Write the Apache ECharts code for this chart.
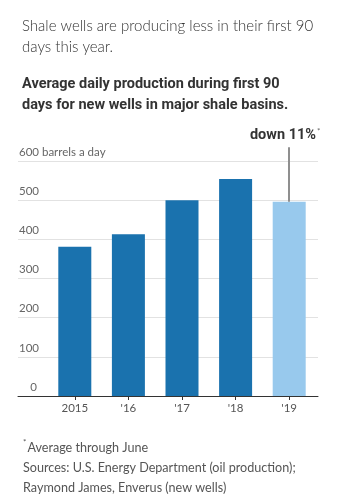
<!DOCTYPE html>
<html><head><meta charset="utf-8">
<script src="https://cdn.jsdelivr.net/npm/echarts@6/dist/echarts.min.js"></script>
<style>html,body{margin:0;padding:0;background:#fff}#c{width:338px;height:500px}</style>
</head><body><div id="c"></div>
<script>
const categories = ['2015', "'16", "'17", "'18", "'19"];
const values = [381, 413, 500, 554, 496];
const highlight = [false, false, false, false, true];
const yTicks = [0, 100, 200, 300, 400, 500, 600];
const annotationTop = 635;
const F = 'Lato, Roboto, sans-serif';
const FB = 'Roboto, sans-serif';
const DARK = '#1a72ae', LIGHT = '#98c9ed';

const chart = echarts.init(document.getElementById('c'), null, {renderer: 'canvas'});
chart.setOption({
  animation: false,
  backgroundColor: '#fff',
  title: [
    {text: 'Shale wells are producing less in their first 90\ndays this year.', left: 17, top: 11,
     textStyle: {fontFamily: F, fontSize: 15, fontWeight: 300, color: '#333', lineHeight: 21}},
    {text: 'Average daily production during first 90\ndays for new wells in major shale basins.', left: 17, top: 69,
     textStyle: {fontFamily: FB, fontSize: 14.5, fontWeight: 'bold', color: '#333', lineHeight: 21}},
    {text: '{s|*}Average through June\nSources: U.S. Energy Department (oil production);\nRaymond James, Enverus (new wells)', left: 18, top: 433,
     textStyle: {fontFamily: F, fontSize: 12.6, fontWeight: 'normal', color: '#555', lineHeight: 20,
       rich: {s: {fontFamily: F, fontSize: 8, fontWeight: 'normal', verticalAlign: 'top', color: '#555', lineHeight: 20, padding: [0,1,6,0]}}}}
  ],
  grid: [
    {left: 18, right: 20, top: 161, bottom: 104},
    {left: 48, right: 22, top: 121.8, bottom: 104}
  ],
  xAxis: [
    {gridIndex: 0, type: 'value', min: 0, max: 1, axisLabel: {show: false}, splitLine: {show: false},
     axisTick: {show: false}, axisLine: {show: true, lineStyle: {color: '#333', width: 1}}},
    {gridIndex: 1, type: 'category', data: categories, axisLine: {show: false},
     axisTick: {show: true, alignWithLabel: true, length: 4, lineStyle: {color: '#333'}},
     axisLabel: {fontFamily: F, fontSize: 11.5, color: '#555', margin: 6}}
  ],
  yAxis: [
    {gridIndex: 0, type: 'value', min: 0, max: 600, interval: 100, axisLine: {show: false}, axisTick: {show: false},
     splitLine: {lineStyle: {color: '#e2e2e2', width: 1}},
     axisLabel: {inside: true, margin: 1, align: 'left', verticalAlign: 'bottom', padding: [0, 0, 3, 0],
       fontFamily: F, fontSize: 11.5, color: '#666',
       formatter: v => v === 600 ? '600 barrels a day' : (v === 0 ? '{z|0}' : String(v)),
       rich: {z: {width: 18, align: 'right', fontFamily: F, fontSize: 11.5, color: '#666'}}}},
    {gridIndex: 1, type: 'value', min: 0, max: 700, interval: 100, show: false}
  ],
  series: [{
    type: 'bar', xAxisIndex: 1, yAxisIndex: 1, barWidth: 33,
    data: values.map((v, i) => ({value: v, itemStyle: {color: highlight[i] ? LIGHT : DARK}})),
    markLine: {
      silent: true, symbol: 'none', animation: false,
      lineStyle: {color: '#8f8f8f', width: 2, type: 'solid'},
      label: {show: true, position: 'end', distance: 4, offset: [-4, 0],
        formatter: '{a|down 11%}{s|*}',
        rich: {a: {fontFamily: FB, fontSize: 14.5, fontWeight: 'bold', color: '#333'},
               s: {fontFamily: F, fontSize: 8, color: '#666', verticalAlign: 'top', padding: [0,0,8,1]}}},
      data: [[{coord: [categories[4], values[4]]}, {coord: [categories[4], annotationTop]}]]
    }
  }]
});
</script></body></html>
